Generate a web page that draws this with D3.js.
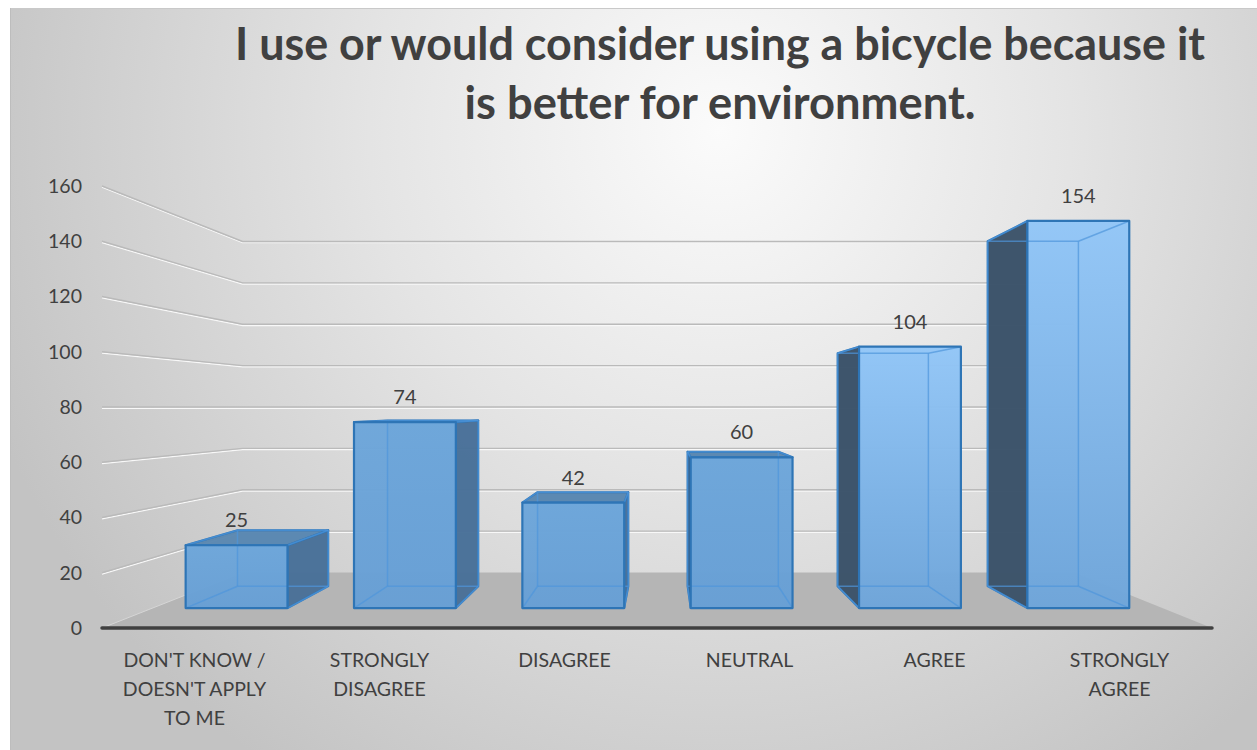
<!DOCTYPE html>
<html>
<head>
<meta charset="utf-8">
<script src="https://cdn.jsdelivr.net/npm/d3@7"></script>
<style>
  html, body { margin: 0; padding: 0; background: #ffffff; }
  svg { display: block; }
</style>
</head>
<body>
<script>
// ---------- data ----------
const categoryLines = [
  ["DON'T KNOW /", "DOESN'T APPLY", "TO ME"],
  ["STRONGLY", "DISAGREE"],
  ["DISAGREE"],
  ["NEUTRAL"],
  ["AGREE"],
  ["STRONGLY", "AGREE"]
];
const values = [25, 74, 42, 60, 104, 154];
const tickValues = [0, 20, 40, 60, 80, 100, 120, 140, 160];
const titleLines = ["I use or would consider using a bicycle because it", "is better for environment."];

// ---------- setup ----------
const W = 1257, H = 750;
const svg = d3.select("body").append("svg").attr("width", W).attr("height", H);
const defs = svg.append("defs");

const bg = defs.append("radialGradient").attr("id", "bg")
  .attr("gradientUnits", "userSpaceOnUse")
  .attr("cx", 720).attr("cy", 130).attr("r", 780);
bg.append("stop").attr("offset", 0).attr("stop-color", "#fbfbfb");
bg.append("stop").attr("offset", 0.45).attr("stop-color", "#e4e4e4");
bg.append("stop").attr("offset", 1).attr("stop-color", "#c3c3c3");

const fgLight = defs.append("linearGradient").attr("id", "frontLight")
  .attr("x1", 0).attr("y1", 0).attr("x2", 0).attr("y2", 1);
fgLight.append("stop").attr("offset", 0).attr("stop-color", "#92c6f7");
fgLight.append("stop").attr("offset", 1).attr("stop-color", "#6ea5da");

const fgFlat = defs.append("linearGradient").attr("id", "frontFlat")
  .attr("x1", 0).attr("y1", 0).attr("x2", 0).attr("y2", 1);
fgFlat.append("stop").attr("offset", 0).attr("stop-color", "#6da6da");
fgFlat.append("stop").attr("offset", 1).attr("stop-color", "#679fd5");

// background frame
svg.append("rect").attr("x", 10).attr("y", 8).attr("width", W - 10).attr("height", H - 8)
  .attr("fill", "url(#bg)");
svg.append("line").attr("x1", 10).attr("x2", W).attr("y1", 8.5).attr("y2", 8.5)
  .attr("stroke", "#c9c9c9").attr("stroke-width", 1);
svg.append("line").attr("x1", 10.5).attr("x2", 10.5).attr("y1", 8).attr("y2", H)
  .attr("stroke", "#bdbdbd").attr("stroke-width", 1);

// ---------- perspective model ----------
const VP = { x: 662, y: 407 };
const S_FRONT = 1, S_BAR_F = 0.91, S_BAR_B = 0.811, S_BACK = 0.749;
const n = values.length;
const x = d3.scaleBand().domain(d3.range(n)).range([-560, 550])
  .paddingInner(0.395).paddingOuter(0.1975);
const y = d3.scaleLinear().domain([0, 160]).range([628, 186]);
const X_LEFT = -560, X_RIGHT = 550;
function P(X, v, s) { return [VP.x + X * s, VP.y + (y(v) - VP.y) * s]; }
const line = d3.line();

// floor
svg.append("path")
  .attr("d", line([P(X_LEFT, 0, S_FRONT), P(X_RIGHT, 0, S_FRONT), P(X_RIGHT, 0, S_BACK), P(X_LEFT, 0, S_BACK)]) + "Z")
  .attr("fill", "#b5b5b5");
svg.append("path")
  .attr("d", line([P(X_LEFT, 0, S_FRONT), P(X_LEFT, 0, S_BACK)]))
  .attr("stroke", "#d6d6d6").attr("stroke-width", 1).attr("fill", "none");

// gridlines (side wall + back wall)
const grid = svg.append("g");
tickValues.filter(t => t > 0).forEach(t => {
  const pts = [P(X_LEFT, t, S_FRONT), P(X_LEFT, t, S_BACK), P(X_RIGHT, t, S_BACK)];
  grid.append("path").attr("d", line(pts)).attr("fill", "none")
    .attr("stroke", "#f8f8f8").attr("stroke-width", 1.2).attr("transform", "translate(0,1.3)");
  grid.append("path").attr("d", line(pts)).attr("fill", "none")
    .attr("stroke", "#bababa").attr("stroke-width", 1.4);
});

// axis line
svg.append("path").attr("d", line([P(X_LEFT, 0, S_FRONT), P(X_RIGHT, 0, S_FRONT)]))
  .attr("stroke", "#404040").attr("stroke-width", 3.5).attr("stroke-linecap", "round");

// tick labels
svg.append("g").selectAll("text").data(tickValues).join("text")
  .attr("x", d => P(X_LEFT, d, S_FRONT)[0] - 20)
  .attr("y", d => P(X_LEFT, d, S_FRONT)[1])
  .attr("dy", "0.35em")
  .attr("text-anchor", "end")
  .attr("font-family", "Lato, 'Open Sans', sans-serif")
  .attr("font-size", 19.5)
  .attr("fill", "#404040")
  .text(d => d);

// ---------- bars ----------
const barsG = svg.append("g");
values.forEach((v, i) => {
  const X0 = x(i), X1 = x(i) + x.bandwidth();
  const fbl = P(X0, 0, S_BAR_F), fbr = P(X1, 0, S_BAR_F), ftl = P(X0, v, S_BAR_F), ftr = P(X1, v, S_BAR_F);
  const bbl = P(X0, 0, S_BAR_B), bbr = P(X1, 0, S_BAR_B), btl = P(X0, v, S_BAR_B), btr = P(X1, v, S_BAR_B);
  const g = barsG.append("g");
  const poly = pts => line(pts) + "Z";
  const aboveEye = ftl[1] < VP.y;

  // back face (faint)
  g.append("path").attr("d", poly([bbl, bbr, btr, btl])).attr("fill", "#6aa2d8").attr("fill-opacity", 0.5);

  // visible side
  if (X1 < 0) {
    g.append("path").attr("d", poly([fbr, bbr, btr, ftr])).attr("fill", "#486f97").attr("fill-opacity", 0.95)
      .attr("stroke", "#2e75b6").attr("stroke-width", 2).attr("stroke-linejoin", "round");
  } else if (X0 > 0) {
    g.append("path").attr("d", poly([fbl, bbl, btl, ftl])).attr("fill", "#3b5268").attr("fill-opacity", 0.97)
      .attr("stroke", "#2e75b6").attr("stroke-width", 2).attr("stroke-linejoin", "round");
  }
  // visible top
  if (!aboveEye) {
    g.append("path").attr("d", poly([ftl, ftr, btr, btl])).attr("fill", "#5a87b1").attr("fill-opacity", 0.97)
      .attr("stroke", "#2e75b6").attr("stroke-width", 2).attr("stroke-linejoin", "round");
  }
  // front face
  g.append("path").attr("d", poly([fbl, fbr, ftr, ftl]))
    .attr("fill", aboveEye ? "url(#frontLight)" : "url(#frontFlat)").attr("fill-opacity", 0.97);

  // hidden edges seen through the translucent box
  const hidden = [[bbl, bbr], [bbl, btl], [bbr, btr], [btl, btr], [fbl, bbl], [fbr, bbr], [ftl, btl], [ftr, btr]];
  hidden.forEach(e => g.append("path").attr("d", line(e)).attr("stroke", "#4f96dc")
    .attr("stroke-width", 1.5).attr("stroke-opacity", 0.7).attr("fill", "none"));

  // front outline
  g.append("path").attr("d", poly([fbl, fbr, ftr, ftl])).attr("fill", "none")
    .attr("stroke", "#2e75b6").attr("stroke-width", 2.2).attr("stroke-linejoin", "round");

  // value label
  g.append("text")
    .attr("x", (ftl[0] + ftr[0]) / 2)
    .attr("y", ftl[1] - 18)
    .attr("text-anchor", "middle")
    .attr("font-family", "Lato, 'Open Sans', sans-serif")
    .attr("font-size", 20)
    .attr("fill", "#404040")
    .text(v);
});

// category labels
const catG = svg.append("g");
categoryLines.forEach((lines, i) => {
  const cx = P(x(i) + x.bandwidth() / 2, 0, S_FRONT)[0];
  const t = catG.append("text")
    .attr("text-anchor", "middle")
    .attr("font-family", "Lato, 'Open Sans', sans-serif")
    .attr("font-size", 19.5)
    .attr("fill", "#404040");
  lines.forEach((l, j) => t.append("tspan").attr("x", cx).attr("y", 667 + j * 29).text(l));
});

// title
const titleG = svg.append("g");
const titleWidths = [970, 511];
titleLines.forEach((l, j) => {
  titleG.append("text")
    .attr("x", 720).attr("y", 60 + j * 59)
    .attr("text-anchor", "middle")
    .attr("font-family", "Lato, 'Open Sans', sans-serif")
    .attr("font-weight", "bold")
    .attr("font-size", 45)
    .attr("fill", "#404040")
    .attr("textLength", titleWidths[j])
    .attr("lengthAdjust", "spacingAndGlyphs")
    .text(l);
});
</script>
</body>
</html>
